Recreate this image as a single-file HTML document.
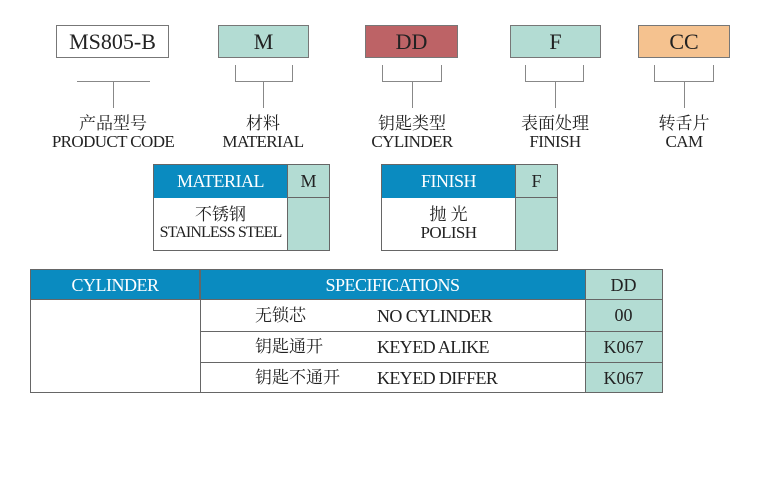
<!DOCTYPE html>
<html><head><meta charset="utf-8"><style>
body{margin:0;width:778px;height:500px;background:#fff;position:relative;overflow:hidden;font-family:"Liberation Serif","Noto Serif CJK SC",serif;color:#222}
div{position:absolute;box-sizing:border-box}
.b{border:1px solid #777;text-align:center;font-size:22px;line-height:31px}
.ln{background:#888}
.lab{text-align:center;white-space:nowrap}
.cn{font-family:"Liberation Serif","Noto Serif CJK SC",serif;font-size:17px;line-height:18px}
.en{font-size:17px;line-height:17px;letter-spacing:-0.6px}
.hd{background:#0a8bc0;color:#fff;text-align:center;font-size:18px;letter-spacing:-0.5px}
.gr{background:#b3dcd3}
.cell{border:1px solid #666}
</style></head><body>
<div class="b" style="left:56px;top:25px;width:113px;height:33px;background:#fff">MS805-B</div>
<div class="b" style="left:218px;top:25px;width:91px;height:33px;background:#b3dcd3">M</div>
<div class="b" style="left:365px;top:25px;width:93px;height:33px;background:#bd6366">DD</div>
<div class="b" style="left:510px;top:25px;width:91px;height:33px;background:#b3dcd3">F</div>
<div class="b" style="left:638px;top:25px;width:92px;height:33px;background:#f5c28f">CC</div>

<div class="ln" style="left:77px;top:81px;width:73px;height:1px"></div>
<div class="ln" style="left:113px;top:81px;width:1px;height:27px"></div>

<div class="ln" style="left:235px;top:65px;width:1px;height:17px"></div>
<div class="ln" style="left:292px;top:65px;width:1px;height:17px"></div>
<div class="ln" style="left:235px;top:81px;width:58px;height:1px"></div>
<div class="ln" style="left:263px;top:81px;width:1px;height:27px"></div>

<div class="ln" style="left:382px;top:65px;width:1px;height:17px"></div>
<div class="ln" style="left:441px;top:65px;width:1px;height:17px"></div>
<div class="ln" style="left:382px;top:81px;width:60px;height:1px"></div>
<div class="ln" style="left:412px;top:81px;width:1px;height:27px"></div>

<div class="ln" style="left:525px;top:65px;width:1px;height:17px"></div>
<div class="ln" style="left:583px;top:65px;width:1px;height:17px"></div>
<div class="ln" style="left:525px;top:81px;width:59px;height:1px"></div>
<div class="ln" style="left:555px;top:81px;width:1px;height:27px"></div>

<div class="ln" style="left:654px;top:65px;width:1px;height:17px"></div>
<div class="ln" style="left:713px;top:65px;width:1px;height:17px"></div>
<div class="ln" style="left:654px;top:81px;width:60px;height:1px"></div>
<div class="ln" style="left:684px;top:81px;width:1px;height:27px"></div>

<div class="lab" style="left:43px;top:115px;width:140px"><div class="cn" style="position:static">产品型号</div><div class="en" style="position:static">PRODUCT CODE</div></div>
<div class="lab" style="left:203px;top:115px;width:120px"><div class="cn" style="position:static">材料</div><div class="en" style="position:static">MATERIAL</div></div>
<div class="lab" style="left:352px;top:115px;width:120px"><div class="cn" style="position:static">钥匙类型</div><div class="en" style="position:static">CYLINDER</div></div>
<div class="lab" style="left:495px;top:115px;width:120px"><div class="cn" style="position:static">表面处理</div><div class="en" style="position:static">FINISH</div></div>
<div class="lab" style="left:624px;top:115px;width:120px"><div class="cn" style="position:static">转舌片</div><div class="en" style="position:static">CAM</div></div>

<div class="cell" style="left:153px;top:164px;width:177px;height:87px;background:#fff"></div>
<div class="hd" style="left:154px;top:165px;width:133px;height:33px;line-height:33px">MATERIAL</div>
<div class="gr" style="left:287px;top:165px;width:42px;height:85px;border-left:1px solid #666"></div>
<div class="gr" style="left:287px;top:165px;width:42px;height:33px;border-left:1px solid #666;border-bottom:1px solid #666;text-align:center;font-size:18px;line-height:33px">M</div>
<div class="lab" style="left:154px;top:206px;width:133px"><div class="cn" style="position:static">不锈钢</div><div class="en" style="position:static;font-size:16px;letter-spacing:-0.9px">STAINLESS STEEL</div></div>

<div class="cell" style="left:381px;top:164px;width:177px;height:87px;background:#fff"></div>
<div class="hd" style="left:382px;top:165px;width:133px;height:33px;line-height:33px">FINISH</div>
<div class="gr" style="left:515px;top:165px;width:42px;height:85px;border-left:1px solid #666"></div>
<div class="gr" style="left:515px;top:165px;width:42px;height:33px;border-left:1px solid #666;border-bottom:1px solid #666;text-align:center;font-size:18px;line-height:33px">F</div>
<div class="lab" style="left:382px;top:206px;width:133px"><div class="cn" style="position:static">抛 光</div><div class="en" style="position:static">POLISH</div></div>

<div class="cell" style="left:30px;top:269px;width:633px;height:124px;background:#fff"></div>
<div class="hd" style="left:31px;top:270px;width:169px;height:30px;line-height:30px;border-right:1px solid #666">CYLINDER</div>
<div class="hd" style="left:200px;top:270px;width:385px;height:30px;line-height:30px">SPECIFICATIONS</div>
<div class="gr" style="left:585px;top:270px;width:77px;height:122px;border-left:1px solid #666"></div>
<div class="ln" style="left:200px;top:270px;width:1px;height:122px;background:#666"></div>
<div class="ln" style="left:31px;top:299px;width:631px;height:1px;background:#666"></div>
<div class="ln" style="left:200px;top:331px;width:462px;height:1px;background:#666"></div>
<div class="ln" style="left:200px;top:362px;width:462px;height:1px;background:#666"></div>
<div style="left:585px;top:270px;width:77px;text-align:center;font-size:18px;line-height:30px">DD</div>
<div style="left:585px;top:300px;width:77px;text-align:center;font-size:18px;line-height:31px">00</div>
<div style="left:585px;top:332px;width:77px;text-align:center;font-size:18px;line-height:30px">K067</div>
<div style="left:585px;top:363px;width:77px;text-align:center;font-size:18px;line-height:30px">K067</div>
<div class="cn" style="left:255px;top:307px">无锁芯</div>
<div class="cn" style="left:255px;top:338px">钥匙通开</div>
<div class="cn" style="left:255px;top:369px">钥匙不通开</div>
<div class="en" style="left:377px;top:307px;font-size:18px;line-height:18px">NO CYLINDER</div>
<div class="en" style="left:377px;top:338px;font-size:18px;line-height:18px">KEYED ALIKE</div>
<div class="en" style="left:377px;top:369px;font-size:18px;line-height:18px">KEYED DIFFER</div>
</body></html>
